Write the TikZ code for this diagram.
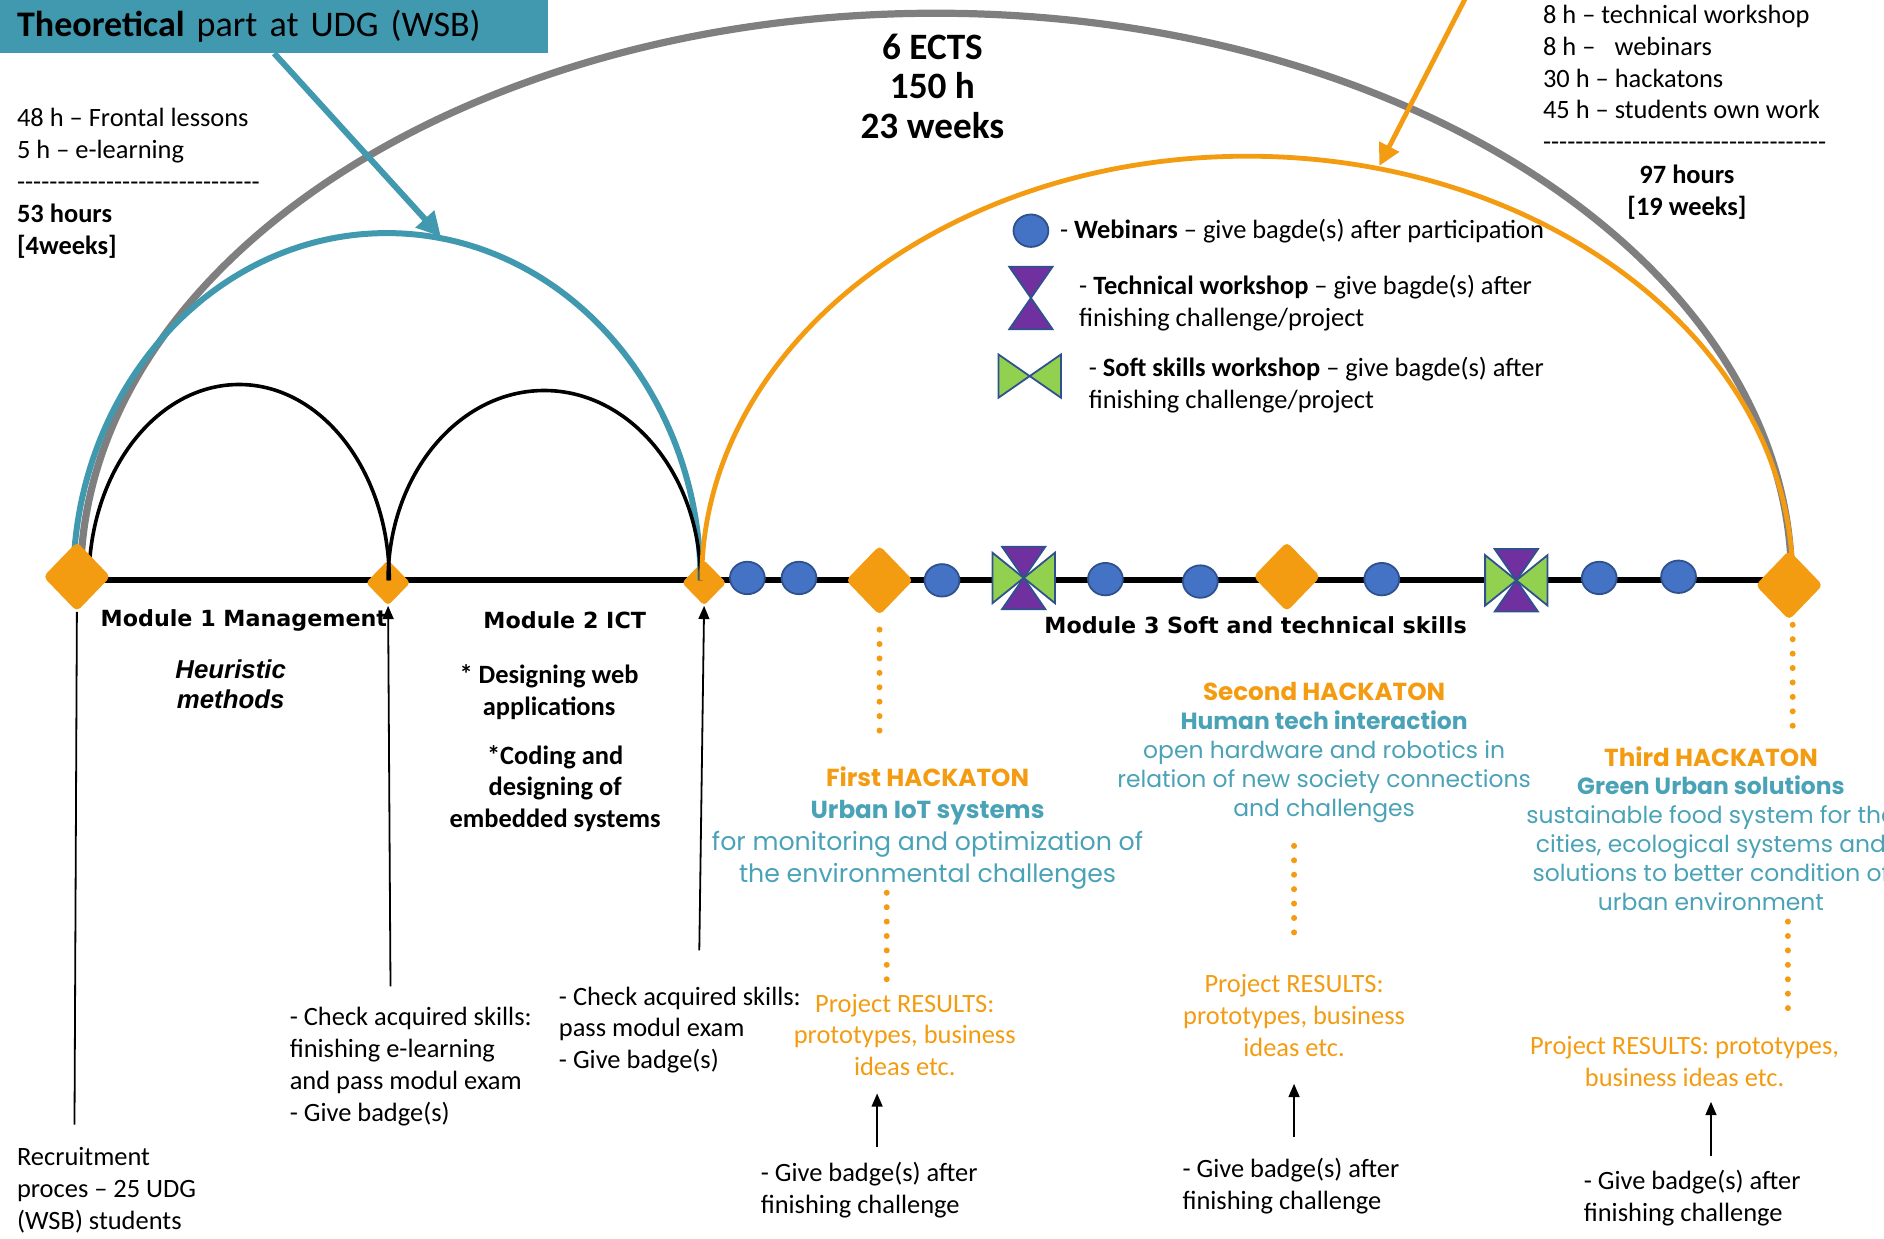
\documentclass[tikz,border=0pt]{standalone}
\usepackage{fontspec}
\setmainfont{Carlito}
\newfontfamily\modfont{DejaVu Sans}
\newfontfamily\hackfont{Poppins}
\newfontfamily\arialfont{Liberation Sans}
\usetikzlibrary{shapes.geometric,arrows.meta}

\definecolor{orng}{HTML}{F39C12}
\definecolor{boxteal}{HTML}{4199B0}
\definecolor{hteal}{HTML}{4AA2B7}
\definecolor{arcgray}{HTML}{7F7F7F}
\definecolor{webblue}{HTML}{4472C4}
\definecolor{webline}{HTML}{2F528F}
\definecolor{purp}{HTML}{7030A0}
\definecolor{grn}{HTML}{92D050}

\newcommand{\hyph}[1]{\foreach \k in {1,...,#1}{-\kern0pt}}

\begin{document}
\begin{tikzpicture}[x=1pt,y=-1pt]
  \tikzset{bigdia/.style = {shape=diamond,fill=orng,minimum width=56pt,minimum height=58pt,inner sep=0pt,rounded corners=4pt}}
  \tikzset{smalldia/.style = {shape=diamond,fill=orng,minimum width=37pt,minimum height=38pt,inner sep=0pt,rounded corners=3pt}}
  \tikzset{web/.style = {shape=ellipse,fill=webblue,draw=webline,line width=1.5pt,minimum width=29pt,minimum height=27pt,inner sep=0pt}}
  \tikzset{wsline/.style = {draw=webline,line width=1.5pt}}
  \tikzset{hglass/.pic = {\path[wsline,fill=purp] (-18,-26) -- (18,-26) -- (-18,26) -- (18,26) -- cycle;}}
  \tikzset{bowtie/.pic = {\path[wsline,fill=grn] (-26,-#1) -- (-26,#1) -- (26,-#1) -- (26,#1) -- cycle;}}
  \tikzset{combo/.pic = {\pic {hglass}; \pic {bowtie=21};}}
  \tikzset{txt/.style = {font=\fontsize{22}{26.5}\selectfont,inner sep=0pt,align=left}}
  \tikzset{modlbl/.style = {font=\modfont\bfseries\fontsize{18.5}{22}\selectfont,inner sep=0pt}}
  \tikzset{hack/.style = {font=\hackfont\fontsize{19.5}{24}\selectfont,text=hteal,inner sep=0pt,align=center,anchor=north}}
  \tikzset{htitle/.style = {}}
  \tikzset{res/.style = {txt,align=center,anchor=north,text=orng}}
  \tikzset{arr/.style = {line width=1.5pt,-{Triangle[length=11pt,width=9pt]}}}
  \tikzset{dots/.style = {draw=orng,line width=5pt,line cap=round,dash pattern=on 0pt off 12pt}}

  \useasboundingbox (0,0) rectangle (1568,1031);

  % time line
  \coordinate (a) at (64,483);
  \coordinate (b) at (323,483);
  \coordinate (c) at (586,483);
  \coordinate (f) at (1489,483);
  \draw[line width=5pt] (a) -- (f);
  \node[smalldia] (db) at (323,485) {};
  \node[smalldia] (dc) at (586,485) {};

  % arcs
  \draw[arcgray,line width=6pt] ([xshift=3pt]a) arc[start angle=180,end angle=0,x radius=712pt,y radius=472pt];
  \draw[boxteal,line width=5pt] ([xshift=-3pt]a) arc[start angle=180,end angle=0,x radius=261pt,y radius=289pt];
  \draw[line width=3pt] ([xshift=10pt]a) arc[start angle=180,end angle=0,x radius=125pt,y radius=163pt];
  \draw[line width=3pt] (b) arc[start angle=180,end angle=0,x radius=130pt,y radius=158pt];
  \draw[orng,line width=4pt] ([xshift=-2pt]c) arc[start angle=180,end angle=0,x radius=454pt,y radius=353pt];

  \node[bigdia] (da) at (64,480) {};
  \node[bigdia] (dd) at (732,483) {};
  \node[bigdia] (de) at (1071,480) {};
  \node[bigdia] (df) at (1489,487) {};

  \foreach \x/\y in {622/481, 665/481, 784/483, 920/482, 999/484, 1150/482, 1331/481, 1397/480}
    \node[web] (w\x) at (\x,\y) {};
  \pic (ws1) at (852,481) {combo};
  \pic (ws2) at (1262,483) {combo};

  % headline
  \node[anchor=north west,fill=boxteal,minimum height=44pt,text width=428pt,inner xsep=14pt,inner ysep=0pt,font=\fontsize{30}{34}\selectfont] (title) at (0,0) {\textbf{Theoretical} part at UDG (WSB)};
  \coordinate (tt) at (367,197);
  \draw[boxteal,line width=5pt,-{Triangle[length=20pt,width=20pt]}] (title.south) -- (tt);
  \coordinate (ot) at (1224,-10);
  \coordinate (ob) at (1148,138);
  \draw[orng,line width=4pt,-{Triangle[length=18pt,width=18pt]}] (ot) -- (ob);

  \node[anchor=north,align=center,inner sep=0pt,font=\bfseries\fontsize{31}{33}\selectfont] (ects) at (776,28) {6 ECTS\\150 h\\23 weeks};
  \node[txt,anchor=north west] (tl) at (14,90) {48 h – Frontal lessons\\5 h – e-learning\\\hyph{30}\\\textbf{53 hours}\\\textbf{[4weeks]}};
  \node[txt,anchor=north west] (tr) at (1284,4) {8 h – technical workshop\\8 h –\hspace{16pt}webinars\\30 h – hackatons\\45 h – students own work\\\hyph{35}};
  \node[txt,anchor=north,align=center,font=\bfseries\fontsize{22}{26.5}\selectfont] (hrs) at (1404,137) {97 hours\\{[19 weeks]}};

  % legend
  \node[web] (lweb) at (858,192) {};
  \node[txt,anchor=west] (lwebt) at (882,192) {- \textbf{Webinars} – give bagde(s) after participation};
  \pic (lhg) at (858,248) {hglass};
  \node[txt,anchor=north west] (lhgt) at (898,229) {- \textbf{Technical workshop} – give bagde(s) after\\finishing challenge/project};
  \pic (lbt) at (857,313) {bowtie=18};
  \node[txt,anchor=north west] (lbtt) at (906,297) {- \textbf{Soft skills workshop} – give bagde(s) after\\finishing challenge/project};

  % modules
  \node[modlbl] (m1) at (203,516) {Module 1 Management};
  \node[modlbl] (m2) at (470,516) {Module 2 ICT};
  \node[modlbl] (m3) at (1045,520) {Module 3 Soft and technical skills};
  \node[anchor=north,align=center,inner sep=0pt,font=\arialfont\bfseries\itshape\fontsize{21.5}{25}\selectfont] (heur) at (192,549) {Heuristic\\methods};
  \node[txt,anchor=north,align=center,font=\bfseries\fontsize{22}{26.5}\selectfont] (des) at (457,553) {* Designing web\\applications};
  \node[txt,anchor=north,align=center,font=\bfseries\fontsize{22}{26.5}\selectfont] (cod) at (462,620) {*Coding and\\designing of\\embedded systems};

  % hackatons
  \node[hack,font=\hackfont\fontsize{20.5}{26.7}\selectfont] (h1) at (772,638) {{\bfseries\color{orng}First HACKATON}\\{\bfseries Urban IoT systems}\\{\fontsize{21}{26.7}\selectfont for monitoring and optimization of}\\{\fontsize{21}{26.7}\selectfont the environmental challenges}};
  \node[hack] (h2) at (1102,568) {{\bfseries\fontsize{20.5}{24}\selectfont\color{orng}Second HACKATON}\\{\bfseries Human tech interaction}\\open hardware and robotics in\\relation of new society connections\\and challenges};
  \node[hack] (h3) at (1424,621) {{\bfseries\fontsize{20.5}{24}\selectfont\color{orng}Third HACKATON}\\{\bfseries Green Urban solutions}\\sustainable food system for the\\cities, ecological systems and\\solutions to better condition of\\urban environment};

  \node[res] (r1) at (753,827) {Project RESULTS:\\prototypes, business\\ideas etc.};
  \node[res] (r2) at (1077,811) {Project RESULTS:\\prototypes, business\\ideas etc.};
  \node[res] (r3) at (1402,862) {Project RESULTS: prototypes,\\business ideas etc.};

  \node[txt,anchor=north west] (g1) at (633,967) {- Give badge(s) after\\finishing challenge};
  \node[txt,anchor=north west] (g2) at (984,964) {- Give badge(s) after\\finishing challenge};
  \node[txt,anchor=north west] (g3) at (1318,974) {- Give badge(s) after\\finishing challenge};
  \node[txt,anchor=north west] (k1) at (241,838) {- Check acquired skills:\\finishing e-learning\\and pass modul exam\\- Give badge(s)};
  \node[txt,anchor=north west] (k2) at (465,821) {- Check acquired skills:\\pass modul exam\\- Give badge(s)};
  \node[txt,anchor=north west] (rec) at (14,955) {Recruitment\\proces – 25 UDG\\(WSB) students};

  % connectors
  \coordinate (recl) at (62,936);
  \coordinate (k1a) at (325,821);
  \coordinate (k2a) at (582,791);
  \coordinate (g1a) at (730,955);
  \coordinate (g1b) at (730,910);
  \coordinate (g2a) at (1077,946);
  \coordinate (g2b) at (1077,902);
  \coordinate (g3a) at (1424,962);
  \coordinate (g3b) at (1424,917);
  \draw[line width=1.5pt] (recl) -- (da.south);
  \foreach \from/\to in {k1a/db.south, k2a/dc.south, g1a/g1b, g2a/g2b, g3a/g3b}
    \draw[arr] (\from) -- (\to);

  \coordinate (p1a) at (732,524);
  \coordinate (p1b) at (732,614);
  \coordinate (q1a) at (738,743);
  \coordinate (q1b) at (738,819);
  \coordinate (q2a) at (1077,704);
  \coordinate (q2b) at (1077,780);
  \coordinate (p3a) at (1492,520);
  \coordinate (p3b) at (1492,611);
  \coordinate (q3a) at (1488,767);
  \coordinate (q3b) at (1488,844);
  \foreach \from/\to in {p1a/p1b, q1a/q1b, q2a/q2b, p3a/p3b, q3a/q3b}
    \draw[dots] (\from) -- (\to);
\end{tikzpicture}
\end{document}
